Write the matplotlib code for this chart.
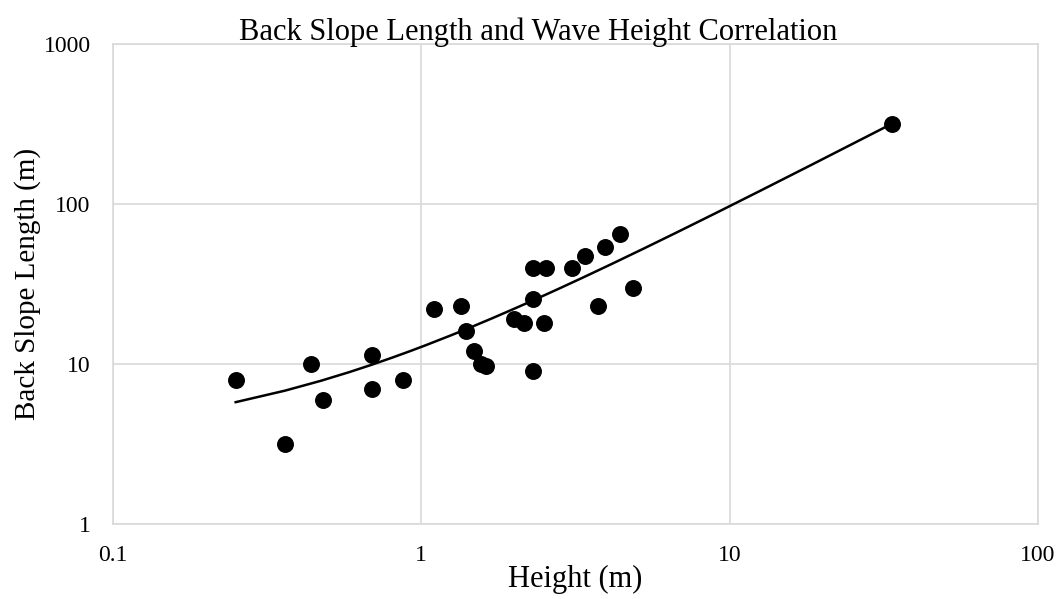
import numpy as np
import matplotlib
matplotlib.use("Agg")
import matplotlib.pyplot as plt
from matplotlib.ticker import FuncFormatter, FixedLocator, NullLocator

# wave height (m) and back slope length (m)
height = [0.25, 0.36, 0.44, 0.48, 0.69, 0.69, 0.87, 1.1, 1.34, 1.4,
          1.48, 1.56, 1.62, 2.0, 2.15, 2.3, 2.3, 2.3, 2.54, 2.5,
          3.09, 3.4, 3.95, 4.4, 3.74, 4.86, 33.5]
length = [8.0, 3.15, 10.0, 6.0, 11.4, 7.0, 8.0, 22.0, 23.0, 16.0,
          12.0, 10.0, 9.7, 19.0, 18.0, 40.0, 25.6, 9.0, 40.0, 18.0,
          40.0, 47.0, 54.0, 65.0, 23.0, 30.0, 316.0]
xticks = [0.1, 1, 10, 100]
yticks = [1, 10, 100, 1000]

plt.rcParams['font.family'] = ['Liberation Serif', 'DejaVu Serif']

fig = plt.figure(figsize=(10.62, 5.99), dpi=100)
ax = fig.add_axes([0.1064, 0.1252, 0.8710, 0.8013])

# linear trendline (excel style) drawn on log axes
m, c = np.polyfit(height, length, 1)
xs = np.linspace(min(height), max(height), 300)
ax.plot(xs, m * xs + c, color='black', lw=1.8, zorder=3)

ax.scatter(height, length, s=125, color='black', zorder=4)

ax.set_xscale('log')
ax.set_yscale('log')
ax.set_xlim(0.1, 100)
ax.set_ylim(1, 1000)
ax.xaxis.set_major_locator(FixedLocator(xticks))
ax.yaxis.set_major_locator(FixedLocator(yticks))
ax.xaxis.set_minor_locator(NullLocator())
ax.yaxis.set_minor_locator(NullLocator())
fmt = FuncFormatter(lambda v, p: '%g' % v)
ax.xaxis.set_major_formatter(fmt)
ax.yaxis.set_major_formatter(fmt)
ax.tick_params(length=0, labelsize=17)
ax.tick_params(axis='x', pad=15)
ax.tick_params(axis='y', pad=16)

ax.grid(True, color='#d9d9d9', lw=1.2)
ax.set_axisbelow(True)
for s in ax.spines.values():
    s.set_color('#d9d9d9')
    s.set_linewidth(1.2)

# title sits centred on the figure rather than the plot area
fig.text(0.507, 0.934, 'Back Slope Length and Wave Height Correlation',
         fontsize=22, ha='center', va='baseline')
ax.set_xlabel('Height (m)', fontsize=22, labelpad=-1)
ax.set_ylabel('Back Slope Length (m)', fontsize=21, labelpad=2)

fig.savefig('out.png', dpi=100)
